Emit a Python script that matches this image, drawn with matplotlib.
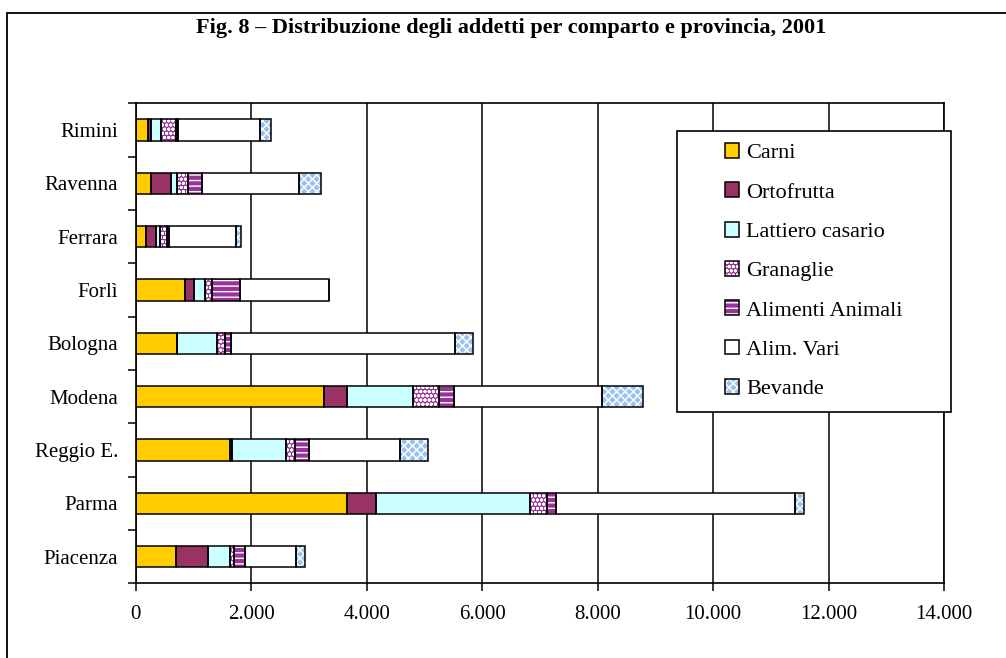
import matplotlib
matplotlib.use("Agg")
import matplotlib.pyplot as plt
from matplotlib.patches import Rectangle
from matplotlib.legend_handler import HandlerTuple
import numpy as np

plt.rcParams['font.family'] = ['Liberation Serif', 'DejaVu Serif']
plt.rcParams['hatch.linewidth'] = 1.0

# province dal basso verso l'alto
provinces = ['Piacenza', 'Parma', 'Reggio E.', 'Modena', 'Bologna',
             'Forlì', 'Ferrara', 'Ravenna', 'Rimini']

# addetti per comparto (stessa sequenza delle province)
carni = [690, 3655, 1635, 3255, 710, 850, 175, 270, 215]
ortofrutta = [560, 510, 25, 400, 10, 160, 185, 335, 45]
lattiero = [375, 2660, 945, 1145, 680, 190, 60, 115, 185]
granaglie = [85, 300, 155, 450, 155, 115, 115, 190, 250]
alim_animali = [175, 160, 235, 255, 90, 490, 35, 245, 35]
alim_vari = [885, 4135, 1585, 2575, 3885, 1545, 1170, 1675, 1430]
bevande = [155, 155, 490, 700, 318, 0, 85, 385, 185]

series = ['Carni', 'Ortofrutta', 'Lattiero casario', 'Granaglie',
          'Alimenti Animali', 'Alim. Vari', 'Bevande']
values = [carni, ortofrutta, lattiero, granaglie, alim_animali, alim_vari, bevande]

x_ticks = [0, 2000, 4000, 6000, 8000, 10000, 12000, 14000]
x_labels = ['0', '2.000', '4.000', '6.000', '8.000', '10.000', '12.000', '14.000']

# stile: (colore, tratteggio)
styles = [('#FFCC00', None), ('#993366', None), ('#CCFFFF', None),
          ('#993399', 'oooo'), ('#993399', '---'), ('#FFFFFF', None),
          ('#99C2F0', 'xxxx')]

W, H = 1006, 658
fig = plt.figure(figsize=(W / 100, H / 100), dpi=100)
ax = fig.add_axes([135.7 / W, 1 - 583.3 / H, (944 - 135.7) / W, (583.3 - 103.3) / H])

y = np.arange(len(provinces))
left = np.zeros(len(provinces))
handles = []
for name, vals, (col, hatch) in zip(series, values, styles):
    vals = np.array(vals, dtype=float)
    # riempimento (il tratteggio bianco prende il colore del bordo)
    ax.barh(y, vals, left=left, height=0.4, color=col, hatch=hatch,
            edgecolor='white', linewidth=0, zorder=2)
    ax.barh(y, vals, left=left, height=0.4, fill=False,
            edgecolor='black', linewidth=1.1, zorder=3)
    fill = Rectangle((0, 0), 1, 1, facecolor=col, hatch=hatch,
                     edgecolor='white', linewidth=0)
    edge = Rectangle((0, 0), 1, 1, fill=False, edgecolor='black', linewidth=1.1)
    handles.append((fill, edge))
    left += vals

ax.set_xlim(0, 14000)
ax.set_ylim(-0.5, len(provinces) - 0.5)
ax.set_xticks(x_ticks)
ax.set_xticklabels(x_labels, fontsize=15)
ax.set_yticks(y)
ax.set_yticklabels(provinces, fontsize=15)
ax.set_yticks(np.arange(-0.5, len(provinces)), minor=True)
ax.tick_params(axis='y', which='major', length=0, pad=12.5)
ax.tick_params(axis='y', which='minor', length=5.5, width=1.1, direction='out')
ax.tick_params(axis='x', length=5.5, width=1.1, direction='out', pad=10)
ax.grid(axis='x', color='black', linewidth=1.1, zorder=1)
ax.set_axisbelow(True)
for sp in ax.spines.values():
    sp.set_linewidth(1.2)
    sp.set_color('black')

# legenda con cornice
leg = fig.legend(handles=handles, labels=series, loc='upper left', frameon=False,
                 handler_map={tuple: HandlerTuple(ndivide=1, pad=0)},
                 bbox_to_anchor=(725 / W, 1 - 143 / H), borderaxespad=0,
                 fontsize=16, handlelength=0.65, handleheight=0.65,
                 handletextpad=0.3, labelspacing=0.86, borderpad=0)
fig.add_artist(Rectangle((677 / W, 1 - 412 / H), (951 - 677) / W, (412 - 131) / H,
                         transform=fig.transFigure, fill=True, facecolor='white',
                         edgecolor='black', linewidth=1.2, zorder=4))
leg.set_zorder(5)

# cornice esterna
fig.add_artist(Rectangle((7 / W, -0.05), 1.1, 1 - 13 / H + 0.05,
                         transform=fig.transFigure, fill=False,
                         edgecolor='black', linewidth=1.3, clip_on=False))

fig.text(511 / W, 1 - 28 / H, 'Fig. 8 – Distribuzione degli addetti per comparto e provincia, 2001',
         ha='center', va='center', fontsize=16, fontweight='bold')

fig.savefig('out.png', dpi=100)
